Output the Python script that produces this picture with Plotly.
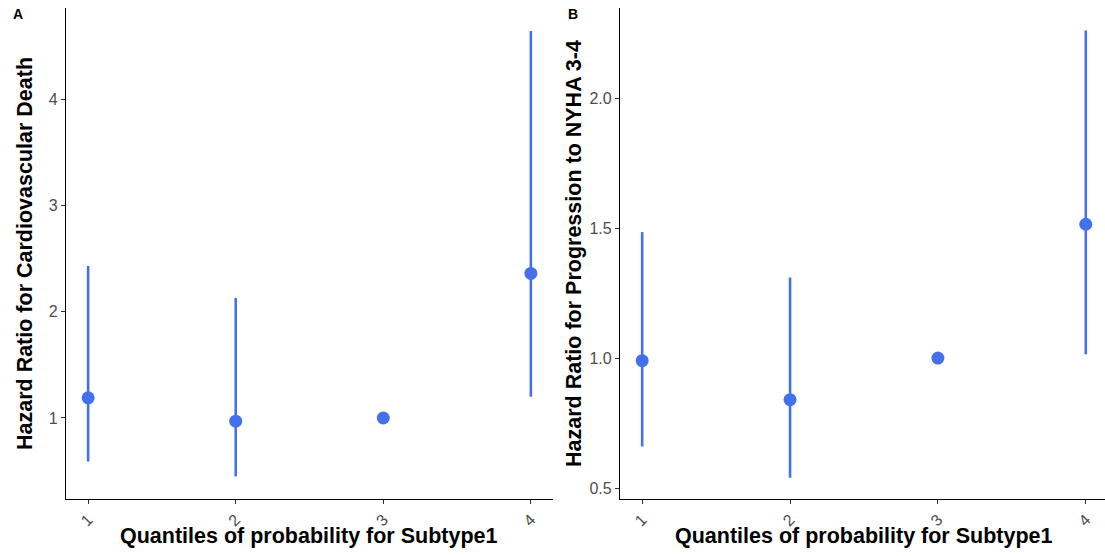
import plotly.graph_objects as go

quantiles = [1, 2, 3, 4]
tick_labels = ["1", "2", "3", "4"]

# Panel A: Cardiovascular death
hr_a = [1.19, 0.97, 1.00, 2.36]
lo_a = [0.59, 0.45, 1.00, 1.20]
hi_a = [2.43, 2.13, 1.00, 4.64]

# Panel B: Progression to NYHA 3-4
hr_b = [0.99, 0.84, 1.00, 1.515]
lo_b = [0.66, 0.54, 1.00, 1.015]
hi_b = [1.485, 1.31, 1.00, 2.26]

x_title = "Quantiles of probability for Subtype1"
y_title_a = "Hazard Ratio for Cardiovascular Death"
y_title_b = "Hazard Ratio for Progression to NYHA 3-4"

COLOR = "#4470EC"
W, H = 1105, 556
FONT = "Liberation Sans, Arial, sans-serif"

fig = go.Figure()

def add_panel(hr, lo, hi, xa, ya):
    fig.add_trace(go.Scatter(
        x=quantiles, y=hr, mode="markers",
        marker=dict(color=COLOR, size=13, line=dict(width=0)),
        error_y=dict(type="data", symmetric=False,
                     array=[h - m for h, m in zip(hi, hr)],
                     arrayminus=[m - l for m, l in zip(hr, lo)],
                     color=COLOR, thickness=2.6, width=0),
        xaxis=xa, yaxis=ya, showlegend=False, hoverinfo="skip"))

add_panel(hr_a, lo_a, hi_a, "x", "y")
add_panel(hr_b, lo_b, hi_b, "x2", "y2")

title_font = dict(family=FONT, size=21.5, color="black")
tick_font = dict(family=FONT, size=16, color="#4D4D4D")

common_x = dict(tickmode="array", tickvals=quantiles, ticktext=tick_labels,
                tickangle=-45, ticks="outside", ticklen=4, tickcolor="#333333",
                showline=True, linecolor="black", linewidth=1.2, showgrid=False,
                zeroline=False, tickfont=tick_font, mirror=False)
common_y = dict(ticks="outside", ticklen=4, tickcolor="#333333",
                showline=True, linecolor="black", linewidth=1.2, showgrid=False,
                zeroline=False, tickfont=tick_font)

yd = [1 - 499 / H, 1 - 8 / H]
xa_dom = [66 / W, 553 / W]
xb_dom = [620 / W, 1.0]

fig.update_layout(
    width=W, height=H,
    margin=dict(l=0, r=0, t=0, b=0),
    paper_bgcolor="white", plot_bgcolor="white",
    xaxis=dict(domain=xa_dom, range=[0.85, 4.15], anchor="y", **common_x),
    yaxis=dict(domain=yd, range=[0.238, 4.856], anchor="x",
               tickvals=[1, 2, 3, 4], ticktext=["1", "2", "3", "4"],
               title=dict(text="<b>" + y_title_a + "</b>", font=title_font, standoff=10),
               **common_y),
    xaxis2=dict(domain=xb_dom, range=[0.85, 4.13], anchor="y2", **common_x),
    yaxis2=dict(domain=yd, range=[0.458, 2.347], anchor="x2",
                tickvals=[0.5, 1.0, 1.5, 2.0], ticktext=["0.5", "1.0", "1.5", "2.0"],
                title=dict(text="<b>" + y_title_b + "</b>", font=title_font, standoff=1),
                **common_y),
    annotations=[
        dict(text="<b>" + x_title + "</b>", x=309 / W, y=1 - 536 / H, xref="paper", yref="paper",
             xanchor="center", yanchor="middle", showarrow=False, font=title_font),
        dict(text="<b>" + x_title + "</b>", x=864 / W, y=1 - 536 / H, xref="paper", yref="paper",
             xanchor="center", yanchor="middle", showarrow=False, font=title_font),
        dict(text="<b>A</b>", x=11 / W, y=1 - 14 / H, xref="paper", yref="paper",
             xanchor="left", yanchor="middle", showarrow=False,
             font=dict(family=FONT, size=14, color="black")),
        dict(text="<b>B</b>", x=566 / W, y=1 - 14 / H, xref="paper", yref="paper",
             xanchor="left", yanchor="middle", showarrow=False,
             font=dict(family=FONT, size=14, color="black")),
    ],
)

fig.write_html("out.html")
